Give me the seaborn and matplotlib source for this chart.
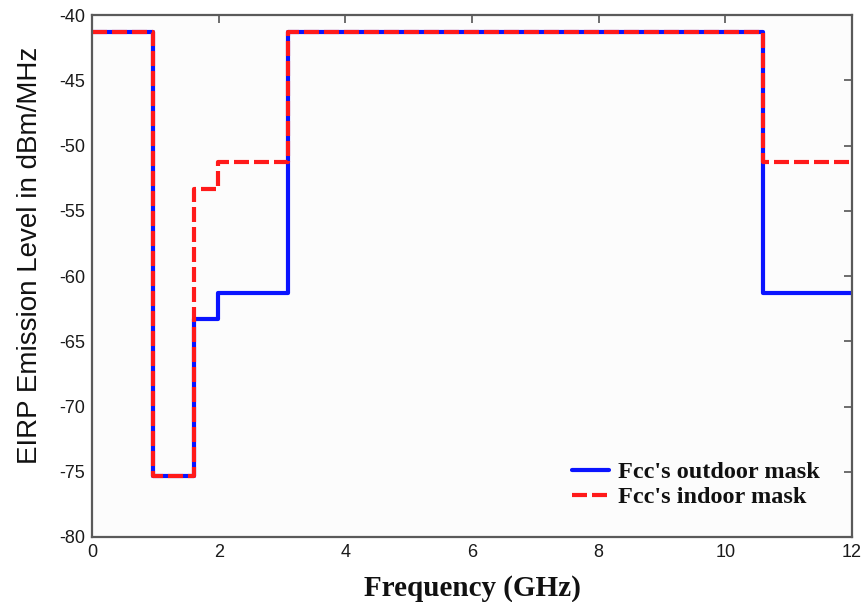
import matplotlib
matplotlib.use("Agg")
import matplotlib.pyplot as plt
import seaborn as sns
import pandas as pd

# FCC UWB emission masks (band edges in GHz, EIRP level in dBm/MHz)
freq_edges = [0.0, 0.96, 1.61, 1.99, 3.1, 10.6, 12.0]
outdoor_level = [-41.3, -75.3, -63.3, -61.3, -41.3, -61.3, -61.3]
indoor_level = [-41.3, -75.3, -53.3, -51.3, -41.3, -51.3, -51.3]

x_ticks = [0, 2, 4, 6, 8, 10, 12]
y_ticks = [-80, -75, -70, -65, -60, -55, -50, -45, -40]

sns.set_theme(style="white")
plt.rcParams["font.family"] = ["Liberation Sans", "DejaVu Sans"]

fig = plt.figure(figsize=(8.63, 6.02), dpi=100, facecolor="white")
ax = fig.add_axes([0.1066, 0.108, 0.8806, 0.867])
ax.set_facecolor("#fcfcfc")

df_out = pd.DataFrame({"f": freq_edges, "lvl": outdoor_level})
df_in = pd.DataFrame({"f": freq_edges, "lvl": indoor_level})

sns.lineplot(data=df_out, x="f", y="lvl", ax=ax, drawstyle="steps-post",
             color="#0a14ff", linewidth=3.0, label="Fcc's outdoor mask",
             sort=False)
sns.lineplot(data=df_in, x="f", y="lvl", ax=ax, drawstyle="steps-post",
             color="#ff1a1a", linewidth=3.0, linestyle=(0, (3.6, 1.2)),
             label="Fcc's indoor mask", sort=False)

ax.set_xlim(0, 12)
ax.set_ylim(-80, -40)
ax.set_xticks(x_ticks)
ax.set_yticks(y_ticks)
ax.set_xticklabels([str(t) for t in x_ticks], fontsize=13)
ax.set_yticklabels([str(t) for t in y_ticks], fontsize=13)

ax.tick_params(direction="in", length=6, width=1.2, colors="#555555",
               top=True, right=True, labelcolor="#1a1a1a", pad=5)
for s in ax.spines.values():
    s.set_visible(True)
    s.set_color("#5a5a5a")
    s.set_linewidth(1.6)

ax.set_xlabel("Frequency (GHz)", fontsize=21, fontweight="bold",
              family=["Liberation Serif", "DejaVu Serif"], color="#111111",
              labelpad=10)
ax.set_ylabel("EIRP Emission Level in dBm/MHz", fontsize=20,
              color="#111111")
ax.yaxis.set_label_coords(-0.064, 0.54)

leg = ax.legend(loc="center left", bbox_to_anchor=(0.632, 0.1),
                frameon=False, handlelength=1.5, handletextpad=0.37,
                labelspacing=0.12, borderaxespad=0.0, borderpad=0.0,
                prop={"family": ["Liberation Serif", "DejaVu Serif"],
                      "weight": "bold", "size": 17.5})
for t in leg.get_texts():
    t.set_color("#111111")

fig.savefig("out.png", dpi=100, facecolor="white")
